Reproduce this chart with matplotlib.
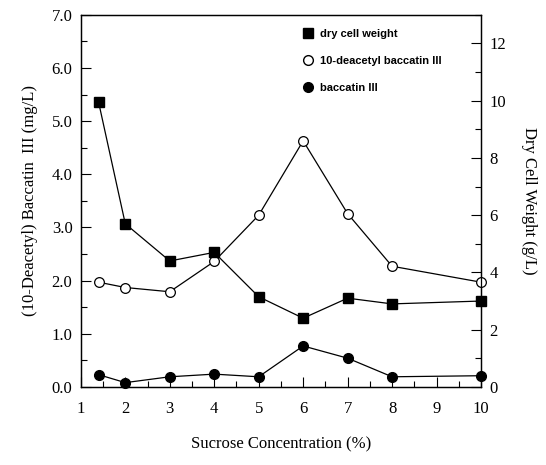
import numpy as np
import matplotlib
matplotlib.use("Agg")
import matplotlib.pyplot as plt
from matplotlib.ticker import MultipleLocator
from matplotlib.lines import Line2D

# sucrose concentration (%)
sucrose = [1.4, 2, 3, 4, 5, 6, 7, 8, 10]
# dry cell weight (g/L), right axis
dry_weight = [9.95, 5.7, 4.4, 4.7, 3.15, 2.4, 3.1, 2.9, 3.0]
# 10-deacetyl baccatin III (mg/L), left axis
dab = [1.97, 1.87, 1.79, 2.36, 3.23, 4.63, 3.26, 2.27, 1.97]
# baccatin III (mg/L), left axis
baccatin = [0.23, 0.08, 0.19, 0.24, 0.19, 0.77, 0.54, 0.19, 0.21]

serif = "Liberation Serif"

fig = plt.figure(figsize=(5.46, 4.65), dpi=100)
ax = fig.add_axes([0.148, 0.168, 0.733, 0.8])
ax2 = ax.twinx()

# left axis series
ax.plot(sucrose, dab, "-o", color="black", mfc="white", mec="black",
        ms=7, lw=0.9, mew=0.9, clip_on=False, zorder=3)
ax.plot(sucrose, baccatin, "-o", color="black", ms=7, lw=0.9,
        clip_on=False, zorder=3)
# right axis series
ax2.plot(sucrose, dry_weight, "-s", color="black", ms=7.5, lw=0.9,
         clip_on=False, zorder=3)

ax.set_xlim(1, 10)
ax.set_ylim(0, 7)
ax2.set_ylim(0, 13)

ax.xaxis.set_major_locator(MultipleLocator(1))
ax.xaxis.set_minor_locator(MultipleLocator(0.5))
ax.yaxis.set_major_locator(MultipleLocator(1))
ax.yaxis.set_minor_locator(MultipleLocator(0.5))
ax2.yaxis.set_major_locator(MultipleLocator(2))
ax2.yaxis.set_minor_locator(MultipleLocator(1))
ax.yaxis.set_major_formatter(plt.FormatStrFormatter("%.1f"))

for a in (ax, ax2):
    a.tick_params(which="both", direction="in", labelsize=12)
    a.tick_params(which="major", length=7, width=0.8)
    a.tick_params(which="minor", length=4, width=0.8)
    for lab in a.get_xticklabels() + a.get_yticklabels():
        lab.set_fontfamily(serif)
    for s in a.spines.values():
        s.set_linewidth(0.9)
ax.tick_params(axis="x", pad=10)
ax.tick_params(axis="y", pad=6)
ax2.tick_params(axis="y", pad=6)

ax.set_xlabel("Sucrose Concentration (%)", fontfamily=serif, fontsize=12,
              labelpad=14)
ax.set_ylabel("(10-Deacetyl) Baccatin  III (mg/L)", fontfamily=serif,
              fontsize=12, labelpad=10)
ax2.set_ylabel("Dry Cell Weight (g/L)", fontfamily=serif, fontsize=12,
               rotation=270, labelpad=22)

# legend shows markers only
handles = [
    Line2D([], [], ls="none", marker="s", color="black", ms=7.5),
    Line2D([], [], ls="none", marker="o", mfc="white", mec="black", ms=7),
    Line2D([], [], ls="none", marker="o", color="black", ms=7),
]
ax2.legend(handles,
           ["dry cell weight", "10-deacetyl baccatin III", "baccatin III"],
           loc="upper left", bbox_to_anchor=(0.53, 0.99), frameon=False,
           handlelength=1.0, handletextpad=0.5, labelspacing=1.55,
           prop={"family": "Liberation Sans", "weight": "bold", "size": 8})

fig.savefig("out.png", dpi=100)
